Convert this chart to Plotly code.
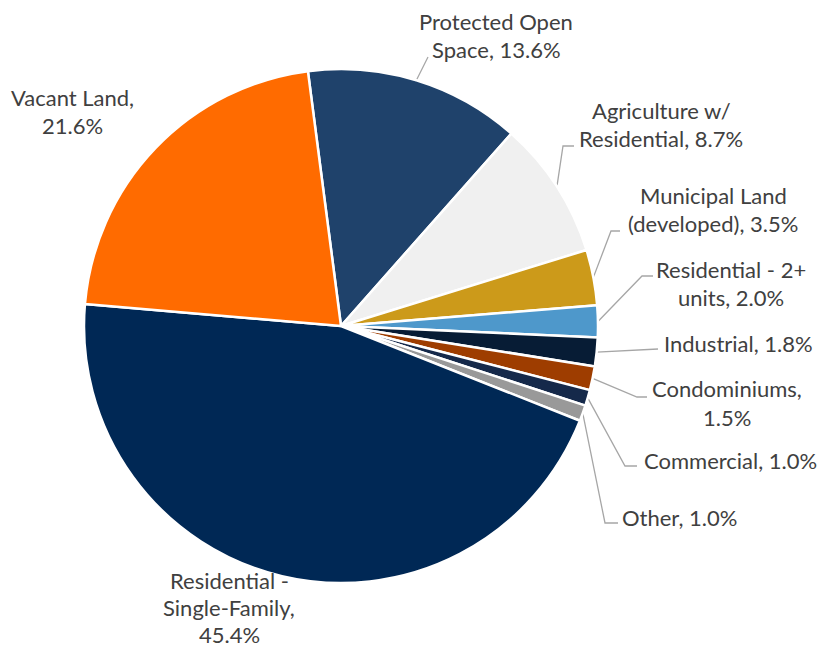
import math
import plotly.graph_objects as go

# ---- data ----
categories = ["Protected Open Space", "Agriculture w/ Residential", "Municipal Land (developed)",
              "Residential - 2+ units", "Industrial", "Condominiums", "Commercial", "Other",
              "Residential - Single-Family", "Vacant Land"]
shares = [13.6, 8.7, 3.5, 2.0, 1.8, 1.5, 1.0, 1.0, 45.4, 21.6]
label_lines = [
    ["Protected Open", "Space, 13.6%"],
    ["Agriculture w/", "Residential, 8.7%"],
    ["Municipal Land", "(developed), 3.5%"],
    ["Residential - 2+", "units, 2.0%"],
    ["Industrial, 1.8%"],
    ["Condominiums,", "1.5%"],
    ["Commercial, 1.0%"],
    ["Other, 1.0%"],
    ["Residential -", "Single-Family,", "45.4%"],
    ["Vacant Land,", "21.6%"],
]
colors = ["#1F426B", "#F0F0F0", "#CC9A1A", "#4E98CB", "#071C35",
          "#9E3D00", "#15294A", "#999999", "#002855", "#FF6B00"]

# ---- layout (pixels) ----
W, H = 820, 648
CX, CY, R = 341, 326, 257
ROT = -7.4
FONT = "Lato"
FSIZE = 22
TXT = "#404040"
LINEC = "#A6A6A6"

# label block positions: (center x, [line y's])
label_pos = [
    (496, [21, 49]),
    (661, [110, 138]),
    (713, [195, 223]),
    (731, [269, 297]),
    (738, [343]),
    (727, [388, 417]),
    (730, [460]),
    (679, [517]),
    (229, [580, 607, 634]),
    (72, [97, 125]),
]
# leader path after slice edge point (None = no leader)
leader_tail = [
    [(428, 57)],
    [(563, 146), (574, 146)],
    [(611, 231), (620, 231)],
    [(642, 276), (653, 276)],
    [(658, 349)],
    [(637, 397), (647, 397)],
    [(625, 466), (637, 466)],
    [(605, 523), (618, 523)],
    None,
    None,
]

fig = go.Figure()

fig.add_trace(go.Pie(
    labels=categories, values=shares, sort=False, direction="clockwise",
    rotation=ROT, textinfo="none", hoverinfo="label+percent",
    marker=dict(colors=colors, line=dict(color="white", width=2.5)),
    domain=dict(x=[(CX - R) / W, (CX + R) / W], y=[1 - (CY + R) / H, 1 - (CY - R) / H]),
    showlegend=False,
))

total = sum(shares)
cum = 0.0
for i, v in enumerate(shares):
    mid = cum + v / 2
    cum += v
    ang = math.radians(ROT + mid / total * 360)
    sx = CX + R * math.sin(ang)
    sy = CY - R * math.cos(ang)
    tail = leader_tail[i]
    if tail:
        xs = [sx] + [p[0] for p in tail]
        ys = [sy] + [p[1] for p in tail]
        fig.add_trace(go.Scatter(x=xs, y=ys, mode="lines", line=dict(color=LINEC, width=1.3),
                                 hoverinfo="skip", showlegend=False))
    lx, lys = label_pos[i]
    for line, ly in zip(label_lines[i], lys):
        fig.add_annotation(x=lx, y=ly, xref="x", yref="y", text=line, showarrow=False,
                           xanchor="center", yanchor="middle",
                           font=dict(family=FONT, size=FSIZE, color=TXT))

fig.update_layout(
    width=W, height=H, margin=dict(l=0, r=0, t=0, b=0),
    paper_bgcolor="white", plot_bgcolor="rgba(0,0,0,0)",
    xaxis=dict(range=[0, W], visible=False, fixedrange=True),
    yaxis=dict(range=[H, 0], visible=False, fixedrange=True),
)

fig.write_html("out.html", config={"displayModeBar": False},
               post_script="document.body.style.margin='0';document.body.style.overflow='hidden';")
